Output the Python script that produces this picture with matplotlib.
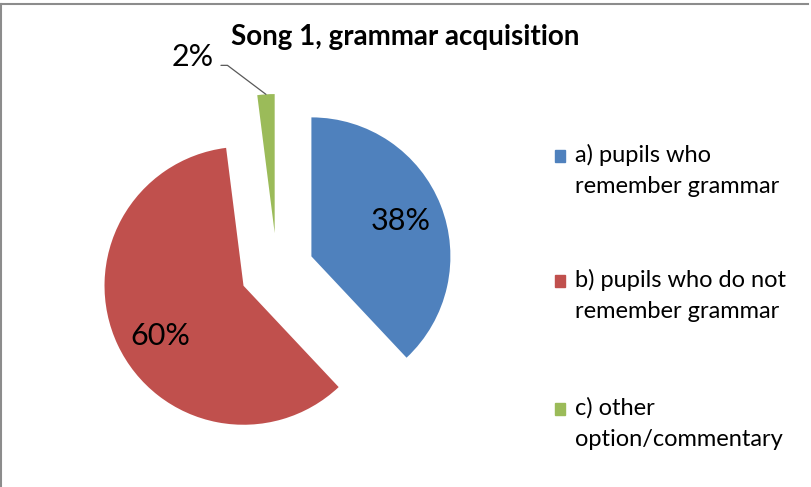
import numpy as np
import matplotlib.pyplot as plt
from matplotlib.patches import Rectangle

# survey answers for song 1
labels = ['a) pupils who\nremember grammar',
          'b) pupils who do not\nremember grammar',
          'c) other\noption/commentary']
shares = [38, 60, 2]
colors = ['#4F81BD', '#C0504D', '#9BBB59']

plt.rcParams['font.family'] = ['Lato', 'DejaVu Sans']

W, H = 811, 487
fig = plt.figure(figsize=(W / 100, H / 100), dpi=100)
ax = fig.add_axes([0, 0, 1, 1])

# pie drawn in pixel-sized data units so the explode offset is easy to set
r = 139
cx, cy = 277, H - 270
wedges, texts, autotexts = ax.pie(
    shares, colors=colors, radius=r, center=(cx, cy),
    explode=[37] * len(shares), startangle=90, counterclock=False,
    autopct='%d%%', pctdistance=0.69,
    textprops=dict(fontsize=22, color='black'))
ax.set_xlim(0, W)
ax.set_ylim(0, H)
ax.set_aspect('equal')
ax.axis('off')

# 60% label sits a bit lower than the bisector
autotexts[1].set_position((autotexts[1].get_position()[0] + 4,
                           autotexts[1].get_position()[1] - 9))

# small slice gets its label outside with a leader line
g = wedges[2]
gx, gy = g.center
mid = np.deg2rad((g.theta1 + g.theta2) / 2)
tip = (gx + g.r * np.cos(mid), gy + g.r * np.sin(mid))
autotexts[2].set_visible(False)
ax.annotate('', xy=tip, xytext=(tip[0] - 45, tip[1] + 29),
            arrowprops=dict(arrowstyle='-', color='#595959', lw=0.9,
                            shrinkA=0, shrinkB=0,
                            connectionstyle='angle,angleA=0,angleB=-37,rad=0'))
ax.text(tip[0] - 52, tip[1] + 37, '{}%'.format(shares[2]), ha='right',
        va='center', fontsize=22)

ax.text(405, H - 45, 'Song 1, grammar acquisition', ha='center', va='baseline',
        fontsize=20, fontweight='bold')

# legend: colour square next to the first line of each two-line entry
base_y = [162, 287, 415]
for lab, col, by in zip(labels, colors, base_y):
    ax.add_patch(Rectangle((555, H - by), 10, 12, color=col, clip_on=False))
    for k, line in enumerate(lab.split('\n')):
        ax.text(575, H - by - 31 * k, line, fontsize=17, va='baseline', ha='left')

# outer chart border, only top and left edges show
ax.plot([1, W - 3], [H - 4, H - 4], color='#8c8c8c', lw=1.5, clip_on=False)
ax.plot([1, 1], [0, H - 4], color='#8c8c8c', lw=1.5, clip_on=False)

fig.savefig('out.png', dpi=100)
